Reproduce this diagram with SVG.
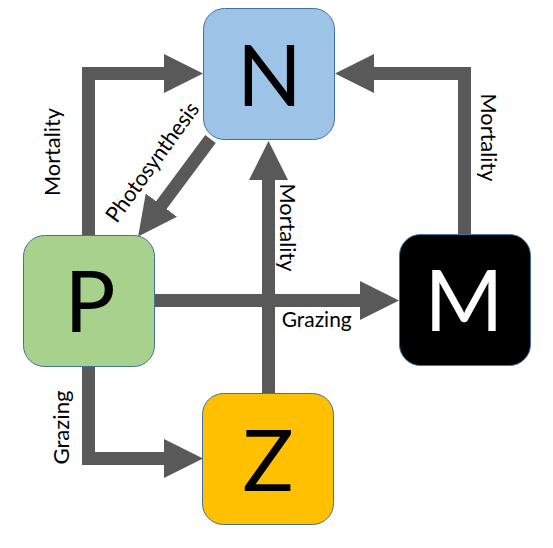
<svg xmlns="http://www.w3.org/2000/svg" width="553" height="548" viewBox="0 0 553 548">
  <style>
    .flow { fill: none; stroke: #595959; stroke-width: 13; stroke-linejoin: miter; stroke-miterlimit: 10; marker-end: url(#head); }
    .box { stroke: #41719C; stroke-width: 1; }
    .big { font-family: Lato, "Liberation Sans", sans-serif; font-size: 85px; text-anchor: middle; }
    .lbl { font-family: Lato, "Liberation Sans", sans-serif; font-size: 22px; fill: #000; text-anchor: middle; }
  </style>
  <defs>
    <marker id="head" markerUnits="userSpaceOnUse" viewBox="0 0 39 39" markerWidth="39" markerHeight="39" refX="1" refY="19.5" orient="auto">
      <path d="M0,0 L39,19.5 L0,39 Z" fill="#595959"/>
    </marker>
  </defs>
  <rect width="553" height="548" fill="#FFFFFF"/>
  <g id="connectors">
    <path class="flow" d="M88.5,236 V73.5 H165"/>
    <path class="flow" d="M464.5,235 V73.5 H373"/>
    <path class="flow" d="M268.5,394 V179"/>
    <path class="flow" d="M154,300.5 H361"/>
    <path class="flow" d="M88.5,366 V458.5 H165"/>
    <path class="flow" d="M210.5,139 L160.8,205.9"/>
    <text class="lbl" transform="translate(60,152) rotate(-90)" textLength="88" lengthAdjust="spacingAndGlyphs">Mortality</text>
    <text class="lbl" transform="translate(481,137.5) rotate(90)" textLength="88" lengthAdjust="spacingAndGlyphs">Mortality</text>
    <text class="lbl" transform="translate(280,227.5) rotate(90)" textLength="88" lengthAdjust="spacingAndGlyphs">Mortality</text>
    <text class="lbl" x="316.7" y="327" textLength="70" lengthAdjust="spacingAndGlyphs">Grazing</text>
    <text class="lbl" transform="translate(69,427.5) rotate(-90)" textLength="74" lengthAdjust="spacingAndGlyphs">Grazing</text>
    <text class="lbl" transform="translate(158.5,166.5) rotate(-54)" textLength="142" lengthAdjust="spacingAndGlyphs">Photosynthesis</text>
  </g>
  <g id="node-N">
    <rect class="box" x="203.5" y="8.5" width="131" height="131" rx="21" fill="#9DC3E6"/>
    <text class="big" x="269.5" y="106" fill="#000">N</text>
  </g>
  <g id="node-P">
    <rect class="box" x="23.5" y="235.5" width="131" height="131" rx="21" fill="#A9D18E"/>
    <text class="big" x="90" y="332" fill="#000">P</text>
  </g>
  <g id="node-M">
    <rect class="box" x="399.5" y="234.5" width="131" height="131" rx="21" fill="#000000"/>
    <text class="big" x="464" y="331" fill="#FFFFFF">M</text>
  </g>
  <g id="node-Z">
    <rect class="box" x="202.5" y="393.5" width="131" height="131" rx="21" fill="#FFC000"/>
    <text class="big" x="268" y="490.5" fill="#000">Z</text>
  </g>
</svg>
